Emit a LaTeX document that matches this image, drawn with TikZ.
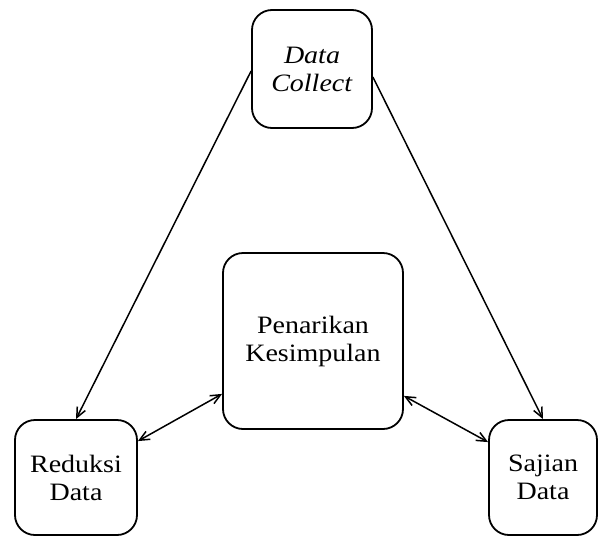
\documentclass[tikz,border=0pt]{standalone}
\usepackage{fontspec}
\setmainfont{Liberation Serif}[FakeStretch=1.12]
\usetikzlibrary{arrows.meta}
\begin{document}
\begin{tikzpicture}[x=1pt,y=-1pt,
  box/.style={draw,line width=1.8pt,rounded corners=20pt,align=center,inner sep=0pt,
    font=\fontsize{25}{28}\selectfont},
  conn/.style={line width=1.5pt,-{Straight Barb[length=10pt,width=9pt]}},
  dconn/.style={line width=1.5pt,{Straight Barb[length=10pt,width=9pt]}-{Straight Barb[length=10pt,width=9pt]}}]
\useasboundingbox (0,0) rectangle (600,536);
\node[box,minimum width=120pt,minimum height=118pt] (dc) at (312,69) {\textit{Data}\\\textit{Collect}};
\node[box,minimum width=180pt,minimum height=176pt] (pk) at (313,341) {Penarikan\\Kesimpulan};
\node[box,minimum width=122pt,minimum height=115pt] (rd) at (76,477.5) {Reduksi\\Data};
\node[box,minimum width=108pt,minimum height=115pt] (sj) at (543,477.5) {Sajian\\Data};
\coordinate (dcl) at ([yshift=-2pt]dc.west);
\coordinate (dcr) at ([yshift=-8pt]dc.east);
\coordinate (rde) at ([yshift=-22pt]rd.north east);
\coordinate (sjw) at ([yshift=-23pt]sj.north west);
\coordinate (pkl) at ([yshift=36pt]pk.south west);
\coordinate (pkr) at ([yshift=34pt]pk.south east);
\draw[conn] (dcl) -- (rd.north);
\draw[conn] (dcr) -- (sj.north);
\draw[dconn] (rde) -- (pkl);
\draw[dconn] (pkr) -- (sjw);
\end{tikzpicture}
\end{document}
